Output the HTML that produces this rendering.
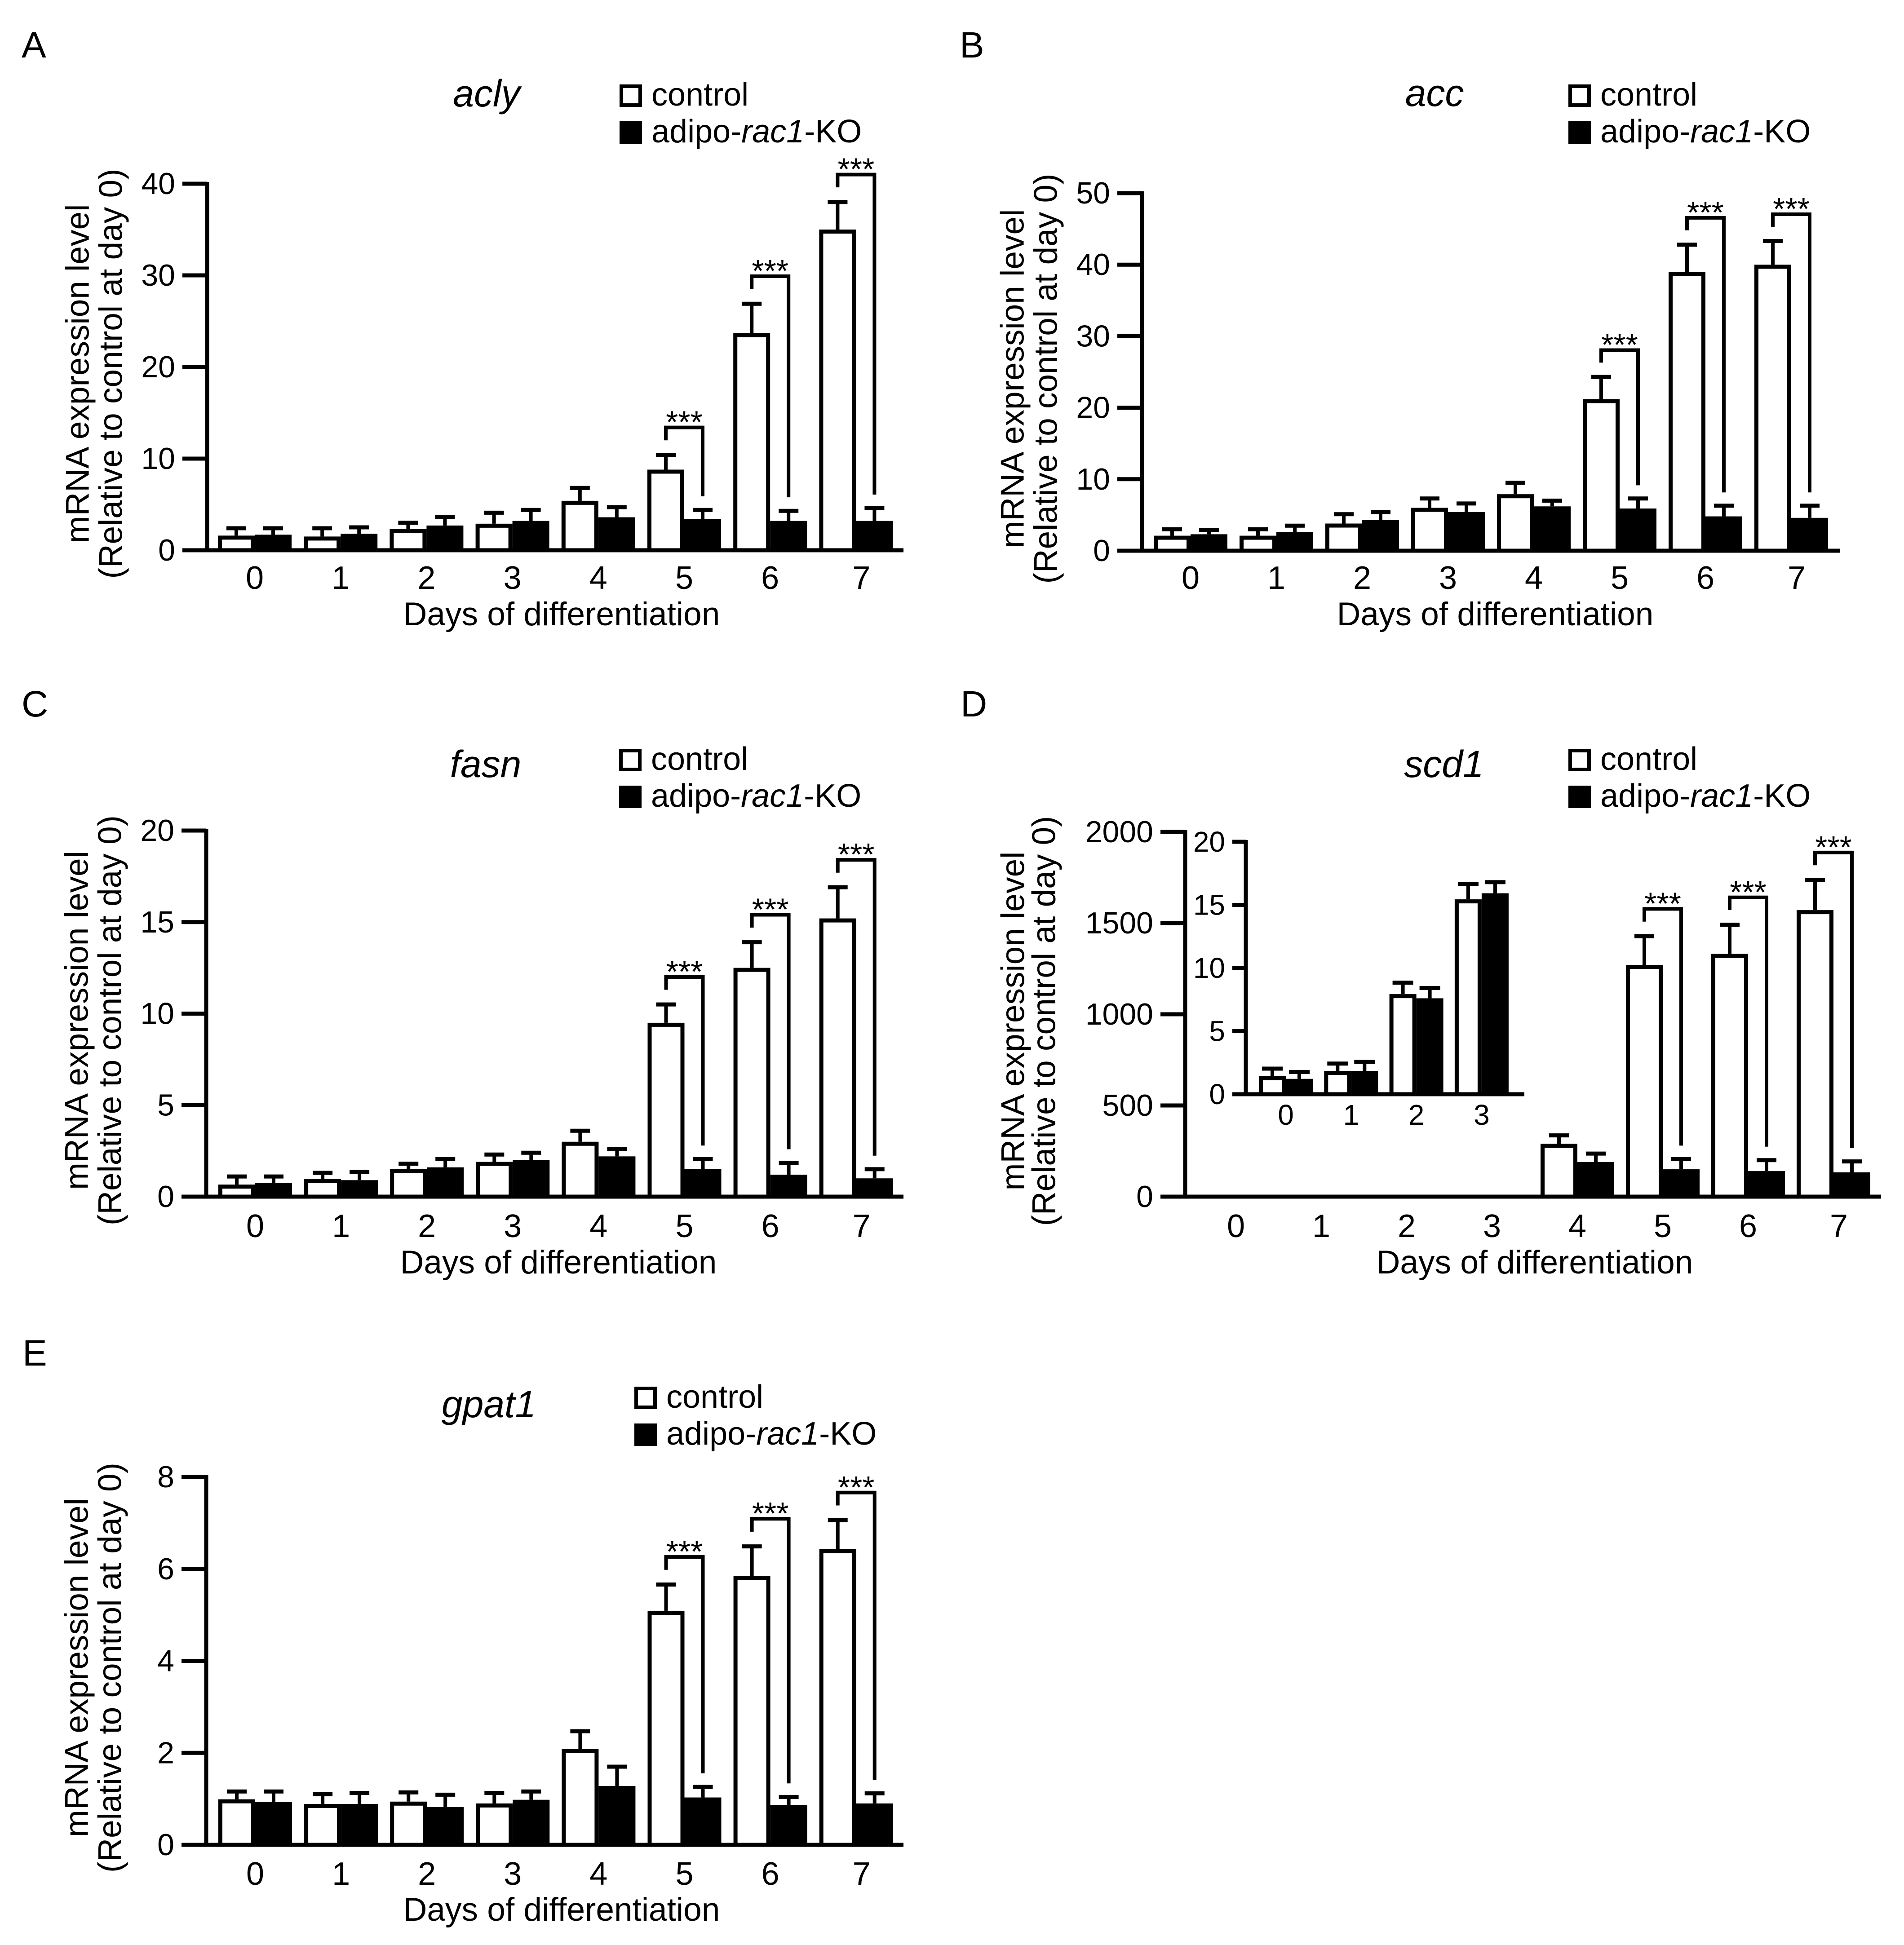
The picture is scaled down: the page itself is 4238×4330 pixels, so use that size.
<!DOCTYPE html>
<html><head><meta charset="utf-8"><style>
html,body{margin:0;padding:0;background:#fff}
svg{display:block}
text{font-family:"Liberation Sans",Arial,sans-serif;fill:#000}
</style></head><body>
<svg id="fig" xmlns="http://www.w3.org/2000/svg" width="4238" height="4330" viewBox="0 0 4238 4330"></svg>
<script>
// ---- data ----
const days = ["0","1","2","3","4","5","6","7"];
const sigDays = [5,6,7];
// A acly
const aclyTicks = [0,10,20,30,40];
const aclyCtrl = [1.6,1.5,2.3,2.9,5.4,8.8,23.7,35.0];
const aclyCtrlErr = [2.4,2.4,3.0,4.1,6.8,10.4,26.9,38.0];
const aclyKO = [1.7,1.8,2.7,3.2,3.6,3.4,3.2,3.2];
const aclyKOErr = [2.4,2.5,3.6,4.4,4.7,4.4,4.3,4.6];
// B acc
const accTicks = [0,10,20,30,40,50];
const accCtrl = [2.1,2.1,3.8,6.0,7.9,21.2,39.0,40.0];
const accCtrlErr = [3.0,3.0,5.1,7.3,9.5,24.3,42.8,43.3];
const accKO = [2.3,2.6,4.3,5.4,6.2,5.9,4.8,4.6];
const accKOErr = [2.9,3.5,5.4,6.6,7.0,7.3,6.3,6.3];
// C fasn
const fasnTicks = [0,5,10,15,20];
const fasnCtrl = [0.66,0.96,1.5,1.9,3.0,9.5,12.5,15.2];
const fasnCtrlErr = [1.1,1.3,1.8,2.3,3.6,10.5,13.9,16.9];
const fasnKO = [0.76,0.9,1.6,2.0,2.2,1.5,1.2,1.0];
const fasnKOErr = [1.1,1.35,2.05,2.4,2.6,2.05,1.85,1.5];
// D scd1
const scdTicks = [0,500,1000,1500,2000];
const scdCtrl = [1.4,1.9,7.9,15.4,290,1271,1331,1571];
const scdCtrlErr = [2.0,2.4,8.8,16.6,336,1428,1491,1737];
const scdKO = [1.2,1.9,7.6,15.9,190,150,140,133];
const scdKOErr = [1.8,2.6,8.4,16.8,236,206,200,193];
// D inset (days 0-3)
const insetDays = ["0","1","2","3"];
const insetTicks = [0,5,10,15,20];
const insetCtrl = [1.43,1.85,7.93,15.44];
const insetCtrlErr = [2.03,2.43,8.84,16.64];
const insetKO = [1.22,1.85,7.6,15.92];
const insetKOErr = [1.76,2.56,8.42,16.8];
// E gpat1
const gpatTicks = [0,2,4,6,8];
const gpatCtrl = [0.99,0.89,0.94,0.9,2.08,5.09,5.85,6.43];
const gpatCtrlErr = [1.16,1.1,1.14,1.13,2.47,5.66,6.49,7.06];
const gpatKO = [0.93,0.89,0.82,0.98,1.28,1.03,0.87,0.9];
const gpatKOErr = [1.16,1.13,1.09,1.16,1.7,1.26,1.04,1.12];

const NS = "http://www.w3.org/2000/svg";
const svg = document.getElementById('fig');
function mk(tag, attrs, parent){
  const e = document.createElementNS(NS, tag);
  for (const k in attrs) e.setAttribute(k, attrs[k]);
  (parent||svg).appendChild(e);
  return e;
}
function txt(s, x, y, size, parent, extra){
  const t = mk('text', Object.assign({x:x, y:y, 'font-size':size}, extra||{}), parent);
  t.textContent = s;
  return t;
}

function drawChart(P){
  const g = mk('g', {});
  
  
  const maxV = P.ticks[P.ticks.length-1];
  const y = v => P.y0 - (v/maxV)*(P.y0 - P.yTop);
  const cx = i => P.g0 + i*P.sp;
  const bw = P.bw;
  if (P.letter){
    const L = txt(P.letter, P.letterX, P.letterY, 82, g);
    
    
  }
  if (P.title){
    const T = txt(P.title, P.titleX, P.titleY, 84, g, {'text-anchor':'middle','font-style':'italic'});
    
    
  }
  if (P.legX){
    const lg = mk('g', {}, g);
    
    
    const b1 = mk('rect', {x:P.legX+4, y:P.legY+4, width:42, height:42, fill:'#fff', stroke:'#000', 'stroke-width':8}, lg);
    
    
    const b2 = mk('rect', {x:P.legX, y:P.legY+82, width:50, height:50, fill:'#000'}, lg);
    
    
    const t1 = txt('control', P.legX+71, P.legY+47, 72, lg);
    
    
    const t2 = mk('text', {x:P.legX+71, y:P.legY+129, 'font-size':72}, lg);
    
    
    t2.innerHTML = 'adipo-<tspan font-style="italic">rac1</tspan>-KO';
  }
  if (P.yTitle){
    const mid = (P.y0 + P.yTop)/2 + 15;
    const o1 = P.ytOff1 || -288, o2 = P.ytOff2 || -214;
    const yt = mk('g', {}, g);
    
    
    txt('mRNA expression level', P.ax+o1, mid, 73, yt, {'text-anchor':'middle','dominant-baseline':'central', transform:`rotate(-90 ${P.ax+o1} ${mid})`});
    txt('(Relative to control at day 0)', P.ax+o2, mid, 73, yt, {'text-anchor':'middle','dominant-baseline':'central', transform:`rotate(-90 ${P.ax+o2} ${mid})`});
  }
  for (let i=0;i<P.ctrl.length;i++){
    const c = cx(i);
    const bg = mk('g', {}, g);
    
    
    const yc = y(P.ctrl[i]), yk = y(P.ko[i]);
    if (P.y0 - yc >= P.minH){
      mk('line', {x1:c-bw/2, x2:c-bw/2, y1:yc, y2:y(P.ctrlErr[i]), stroke:'#000','stroke-width':P.lw}, bg);
      mk('line', {x1:c-bw/2-P.cap/2, x2:c-bw/2+P.cap/2, y1:y(P.ctrlErr[i]), y2:y(P.ctrlErr[i]), stroke:'#000','stroke-width':P.lw+1}, bg);
      const r = mk('rect', {x:c-bw+P.bs/2, y:yc+P.bs/2, width:bw-P.bs, height:Math.max(0,P.y0-yc-P.bs/2), fill:'#fff', stroke:'#000','stroke-width':P.bs}, bg);
      
      
    }
    if (P.y0 - yk >= P.minH){
      mk('line', {x1:c+bw/2, x2:c+bw/2, y1:yk, y2:y(P.koErr[i]), stroke:'#000','stroke-width':P.lw}, bg);
      mk('line', {x1:c+bw/2-P.cap/2, x2:c+bw/2+P.cap/2, y1:y(P.koErr[i]), y2:y(P.koErr[i]), stroke:'#000','stroke-width':P.lw+1}, bg);
      const r2 = mk('rect', {x:c, y:yk, width:bw, height:P.y0-yk, fill:'#000'}, bg);
      
      
    }
  }
  if (P.sig){
    P.sig.forEach(i => {
      const c = cx(i);
      const top = y(P.ctrlErr[i] + 0.075*maxV);
      const lb = y(P.ctrlErr[i] + 0.04*maxV);
      const rb = y(P.koErr[i] + 0.037*maxV);
      const sg = mk('g', {}, g);
      
      
      mk('path', {d:`M${c-bw/2} ${lb} V${top} H${c+bw/2} V${rb}`, fill:'none', stroke:'#000','stroke-width':8}, sg);
      txt('***', c, top+12, 70, sg, {'text-anchor':'middle'});
    });
  }
  const ax = mk('g', {}, g);
  
  
  mk('line', {x1:P.ax, x2:P.ax, y1:P.yTop-4, y2:P.y0+4, stroke:'#000','stroke-width':P.axw}, ax);
  P.ticks.forEach(t => {
    mk('line', {x1:P.ax-P.tl, x2:P.ax, y1:y(t), y2:y(t), stroke:'#000','stroke-width':P.axw}, ax);
    const tl = txt(String(t), P.ax-P.tl-16, y(t), P.tfs, ax, {'text-anchor':'end','dominant-baseline':'central'});
    
    
  });
  const xa = mk('g', {}, g);
  
  
  mk('line', {x1:P.ax-P.tl, x2:P.xEnd, y1:P.y0, y2:P.y0, stroke:'#000','stroke-width':P.axw}, xa);
  P.days.forEach((d,i) => {
    const dl = txt(d, cx(i) + (i===7?12:0), P.dayY, P.dfs, xa, {'text-anchor':'middle'});
    
    
  });
  if (P.xTitleX){
    const xt = txt('Days of differentiation', P.xTitleX, P.xTitleY, 73, xa, {'text-anchor':'middle'});
    
    
  }
}

const common = {bw:82, lw:8, cap:44, bs:9, axw:9, tl:55, tfs:68, dfs:72, minH:8, sig:sigDays, days:days, yTitle:true};

drawChart(Object.assign({}, common, {id:'acly', letter:'A', letterX:48, letterY:128, title:'acly', titleX:1083, titleY:237,
  legX:1379, legY:188, ax:461, y0:1225, yTop:409, xEnd:2011, g0:567, sp:191.2, dayY:1311, xTitleX:1250, xTitleY:1392,
  ticks:aclyTicks, ctrl:aclyCtrl, ctrlErr:aclyCtrlErr, ko:aclyKO, koErr:aclyKOErr}));
drawChart(Object.assign({}, common, {id:'acc', letter:'B', letterX:2136, letterY:128, title:'acc', titleX:3193, titleY:236,
  legX:3491, legY:188, ax:2542, y0:1226, yTop:430, xEnd:4095, g0:2650, sp:191, dayY:1311, xTitleX:3328, xTitleY:1392,
  ticks:accTicks, ctrl:accCtrl, ctrlErr:accCtrlErr, ko:accKO, koErr:accKOErr}));
drawChart(Object.assign({}, common, {id:'fasn', letter:'C', letterX:48, letterY:1595, title:'fasn', titleX:1081, titleY:1730,
  legX:1378, legY:1667, ax:459, y0:2664, yTop:1849, xEnd:2011, g0:568, sp:191.1, dayY:2754, xTitleX:1243, xTitleY:2835,
  ticks:fasnTicks, ctrl:fasnCtrl, ctrlErr:fasnCtrlErr, ko:fasnKO, koErr:fasnKOErr}));
drawChart(Object.assign({}, common, {id:'scd1', letter:'D', letterX:2138, letterY:1595, title:'scd1', titleX:3214, titleY:1730,
  legX:3491, legY:1667, ax:2638, y0:2664, yTop:1852, xEnd:4187, g0:2751, sp:190, dayY:2754, xTitleX:3416, xTitleY:2835,
  ytOff1:-383, ytOff2:-314,
  ticks:scdTicks, ctrl:scdCtrl, ctrlErr:scdCtrlErr, ko:scdKO, koErr:scdKOErr}));
drawChart(Object.assign({}, common, {id:'scd1-inset', bw:60, cap:46, tl:30, tfs:64, dfs:64, yTitle:false, sig:null, days:insetDays,
  ax:2773, y0:2436, yTop:1874, xEnd:3393, g0:2862, sp:145.3, dayY:2504,
  ticks:insetTicks, ctrl:insetCtrl, ctrlErr:insetCtrlErr, ko:insetKO, koErr:insetKOErr}));
drawChart(Object.assign({}, common, {id:'gpat1', letter:'E', letterX:50, letterY:3040, title:'gpat1', titleX:1088, titleY:3155,
  legX:1412, legY:3087, ax:459, y0:4107, yTop:3288, xEnd:2011, g0:568, sp:191.1, dayY:4196, xTitleX:1250, xTitleY:4276,
  ticks:gpatTicks, ctrl:gpatCtrl, ctrlErr:gpatCtrlErr, ko:gpatKO, koErr:gpatKOErr}));
</script>
</body></html>
